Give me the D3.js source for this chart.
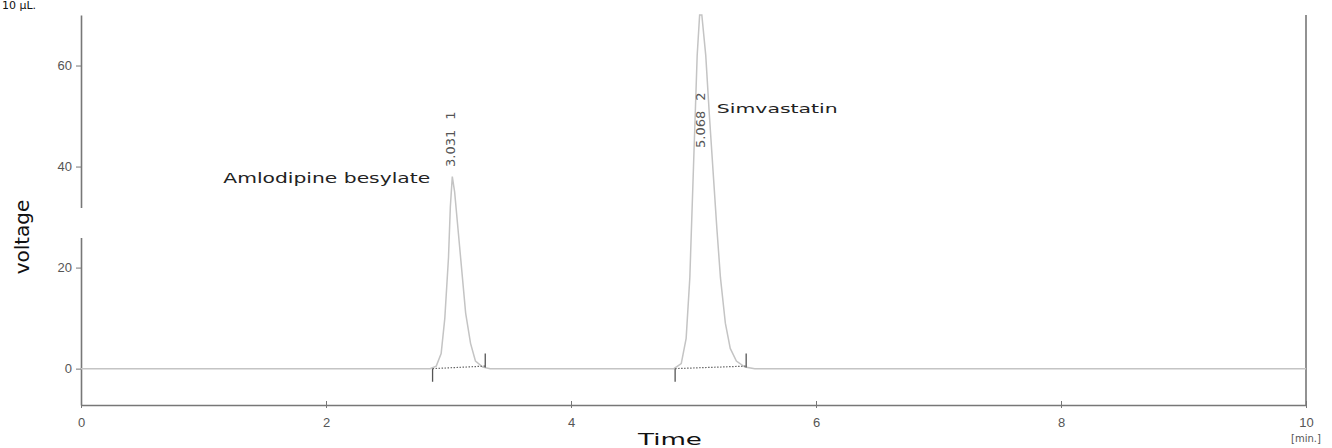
<!DOCTYPE html>
<html>
<head>
<meta charset="utf-8">
<script src="https://cdn.jsdelivr.net/npm/d3@7"></script>
<style>
  body { margin: 0; background: #fff; }
  svg { display: block; font-family: "DejaVu Sans", sans-serif; }
</style>
</head>
<body>
<div id="chart"></div>
<script>
// chromatogram trace (time in min, voltage)
let traceTime = [0, 1, 2, 2.5, 2.85, 2.9, 2.94, 2.97, 3.0, 3.015, 3.031, 3.05, 3.08, 3.11, 3.14, 3.18, 3.22, 3.28, 3.34,
  3.6, 4.0, 4.5, 4.84, 4.9, 4.94, 4.97, 5.0, 5.03, 5.05, 5.068, 5.1, 5.13, 5.16, 5.19, 5.22, 5.26, 5.3, 5.35, 5.42, 5.5, 6, 8, 10];
let traceVoltage = [0, 0, 0, 0, 0, 0.5, 3, 10, 22, 32, 38, 35, 27, 19, 11, 5, 1.5, 0.3, 0,
  0, 0, 0, 0, 1, 6, 18, 40, 62, 70, 70, 62, 50, 39, 28, 18, 9, 4, 1.5, 0.3, 0, 0, 0, 0];

// peak table
let peakRT = [3.031, 5.068];
let peakLabels = ["3.031", "5.068"];
let peakNumbers = ["1", "2"];
let peakStart = [2.87, 4.85];
let peakEnd = [3.30, 5.43];
let peakNames = ["Amlodipine besylate", "Simvastatin"];

let xTicks = [0, 2, 4, 6, 8, 10];
let yTicks = [0, 20, 40, 60];

let margin = { top: 15, right: 26, bottom: 43, left: 81 },
  width = 1332 - margin.left - margin.right,
  height = 448 - margin.top - margin.bottom;

let svg = d3.select("#chart")
  .append("svg")
  .attr("width", 1332)
  .attr("height", 448);

let g = svg.append("g")
  .attr("transform", "translate(" + margin.left + "," + margin.top + ")");

let x = d3.scaleLinear().domain([0, 10]).range([0, width]);
let y = d3.scaleLinear().domain([-7.2, 70]).range([height, 0]);

// axes
let yAxis = g.append("g")
  .call(d3.axisLeft(y).tickValues(yTicks).tickSize(5).tickSizeOuter(0).tickPadding(4));
let xAxis = g.append("g")
  .attr("transform", "translate(0," + height + ")")
  .call(d3.axisBottom(x).tickValues(xTicks).tickSizeOuter(0).tickPadding(7));

[xAxis, yAxis].forEach(function (a) {
  a.select(".domain").attr("stroke", "#777").attr("stroke-width", 1.6);
  a.selectAll(".tick line").attr("stroke", "#777");
  a.selectAll(".tick text").attr("fill", "#555").style("font-size", "13px");
});
xAxis.selectAll(".tick line").attr("y1", -4).attr("y2", 3);

// right border
g.append("line")
  .attr("x1", x(10)).attr("x2", x(10))
  .attr("y1", 0).attr("y2", height)
  .attr("stroke", "#777").attr("stroke-width", 1.6);

// the gap in the left axis
g.append("rect")
  .attr("x", -4).attr("y", 193).attr("width", 8).attr("height", 30)
  .attr("fill", "#fff");

// trace
let line = d3.line()
  .x(function (d, i) { return x(traceTime[i]); })
  .y(function (d) { return y(d); });

g.append("path")
  .datum(traceVoltage)
  .attr("d", line)
  .attr("fill", "none")
  .attr("stroke", "#c4c4c4")
  .attr("stroke-width", 1.5);

// integration markers
peakStart.forEach(function (s, i) {
  let e = peakEnd[i];
  g.append("line")
    .attr("x1", x(s)).attr("x2", x(e))
    .attr("y1", y(0)).attr("y2", y(0.5))
    .attr("stroke", "#666").attr("stroke-width", 1.2)
    .attr("stroke-dasharray", "1.5,1.5");
  g.append("line")
    .attr("x1", x(s)).attr("x2", x(s))
    .attr("y1", y(0)).attr("y2", y(-2.6))
    .attr("stroke", "#555").attr("stroke-width", 1.3);
  g.append("line")
    .attr("x1", x(e)).attr("x2", x(e))
    .attr("y1", y(0.2)).attr("y2", y(3))
    .attr("stroke", "#555").attr("stroke-width", 1.3);
});

// retention time labels (vertical)
peakRT.forEach(function (t, i) {
  let yy = i === 0 ? 152 : 133;
  let lbl = g.append("text")
    .attr("transform", "translate(" + (x(t) + 3) + "," + yy + ") rotate(-90)")
    .attr("fill", "#555")
    .style("font-size", "13px");
  lbl.append("tspan").text(peakLabels[i]);
  lbl.append("tspan").attr("dx", 10).text(peakNumbers[i]);
});

// wide-looking label: stretch horizontally to a target width
function wideText(parent, px, py, w, size, txt, color) {
  let t = parent.append("text")
    .attr("fill", color)
    .style("font-size", size + "px")
    .text(txt);
  let sx = w / t.node().getComputedTextLength();
  t.attr("transform", "translate(" + px + "," + py + ") scale(" + sx + ",1)");
  return t;
}

// compound names
wideText(g, x(peakRT[0]) - 229, 168, 207, 14, peakNames[0], "#222");
wideText(g, x(peakRT[1]) + 15, 98, 121, 13, peakNames[1], "#222");

// axis titles
svg.append("text")
  .attr("transform", "translate(29,237) rotate(-90)")
  .attr("text-anchor", "middle")
  .attr("fill", "#111")
  .style("font-size", "20px")
  .text("voltage");
wideText(svg, 638, 445, 64, 15, "Time", "#111");
svg.append("text")
  .attr("x", margin.left + x(10)).attr("y", 442)
  .attr("text-anchor", "middle")
  .attr("fill", "#555")
  .style("font-size", "10px")
  .text("[min.]");

// note at the top edge
svg.append("text")
  .attr("x", 2).attr("y", 9)
  .attr("fill", "#111")
  .style("font-size", "11px")
  .text("10 µL.");
</script>
</body>
</html>
